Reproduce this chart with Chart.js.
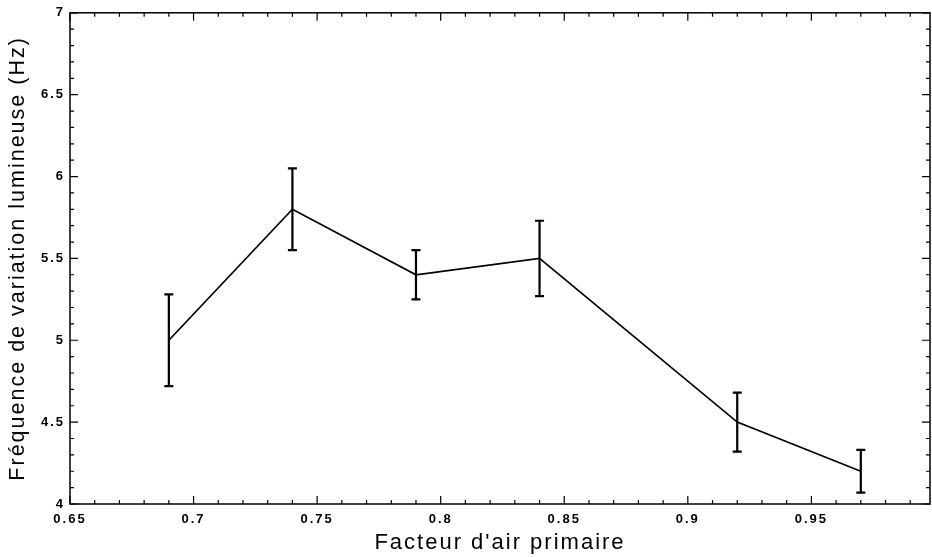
<!DOCTYPE html>
<html><head><meta charset="utf-8">
<script src="https://cdn.jsdelivr.net/npm/chart.js@4/dist/chart.umd.min.js"></script>
<style>html,body{margin:0;padding:0;background:#fff}</style>
</head><body>
<canvas id="c" width="932" height="557"></canvas>
<script>
// data
const airFactor = [0.69, 0.74, 0.79, 0.84, 0.92, 0.97];
const freqHz    = [5.0, 5.8, 5.4, 5.5, 4.5, 4.2];
const errLow    = [4.72, 5.55, 5.25, 5.27, 4.32, 4.07];
const errHigh   = [5.28, 6.05, 5.55, 5.73, 4.68, 4.33];
const xMajor = [0.65, 0.7, 0.75, 0.8, 0.85, 0.9, 0.95];
const yMajor = [4, 4.5, 5, 5.5, 6, 6.5, 7];
const xMinorStep = 0.01, yMinorStep = 0.1;

const FONT = 'Liberation Sans, Arial, Helvetica, sans-serif';

// wide letter spacing like the original typesetting
const spacingPlugin = {
  id: 'spacing',
  beforeDraw(chart){ chart.ctx.letterSpacing = '2px'; },
  afterDraw(chart){ chart.ctx.letterSpacing = '0px'; }
};

// inward ticks on all four sides, box frame, error bars
const framePlugin = {
  id: 'frame',
  afterDatasetsDraw(chart){
    const {ctx, chartArea:a, scales:{x, y}} = chart;
    ctx.save();
    ctx.strokeStyle = '#000';
    // error bars
    ctx.lineWidth = 2.2;
    airFactor.forEach((v,i)=>{
      const px = x.getPixelForValue(v), lo = y.getPixelForValue(errLow[i]), hi = y.getPixelForValue(errHigh[i]);
      ctx.beginPath();
      ctx.moveTo(px, lo); ctx.lineTo(px, hi);
      ctx.moveTo(px-4.5, lo); ctx.lineTo(px+4.5, lo);
      ctx.moveTo(px-4.5, hi); ctx.lineTo(px+4.5, hi);
      ctx.stroke();
    });
    // frame
    ctx.lineWidth = 1.5;
    ctx.strokeRect(a.left, a.top, a.right-a.left, a.bottom-a.top);
    ctx.lineWidth = 1.2;
    ctx.beginPath();
    for(let v = x.min; v <= x.max + 1e-9; v += xMinorStep){
      const vv = Math.round(v*100)/100;
      const major = xMajor.some(m=>Math.abs(m-vv)<1e-6);
      const len = major ? 8 : 4, px = x.getPixelForValue(vv);
      ctx.moveTo(px, a.bottom); ctx.lineTo(px, a.bottom-len);
      ctx.moveTo(px, a.top); ctx.lineTo(px, a.top+len);
    }
    for(let v = y.min; v <= y.max + 1e-9; v += yMinorStep){
      const vv = Math.round(v*10)/10;
      const major = yMajor.some(m=>Math.abs(m-vv)<1e-6);
      const len = major ? 8 : 4, py = y.getPixelForValue(vv);
      ctx.moveTo(a.left, py); ctx.lineTo(a.left+len, py);
      ctx.moveTo(a.right, py); ctx.lineTo(a.right-len, py);
    }
    ctx.stroke();
    ctx.restore();
  }
};

new Chart(document.getElementById('c'), {
  type: 'line',
  data: {
    datasets: [{
      data: airFactor.map((v,i)=>({x:v, y:freqHz[i]})),
      borderColor: '#000', borderWidth: 1.7, pointRadius: 0, tension: 0, fill: false
    }]
  },
  options: {
    responsive: false, animation: false,
    layout: {padding: {top: 10, right: 2, left: 0, bottom: 0}},
    plugins: {legend: {display: false}, tooltip: {enabled: false}},
    scales: {
      x: {
        type: 'linear', min: 0.65, max: 0.998,
        afterBuildTicks: s => { s.ticks = xMajor.map(v=>({value:v})); },
        afterFit: s => { s.height = 53; },
        grid: {display: false, drawTicks: false}, border: {display: false},
        ticks: {color: '#000', padding: 8, maxRotation: 0, autoSkip: false,
          font: {family: FONT, size: 13, weight: 'bold'}, callback: v => String(+v.toFixed(2))},
        title: {display: true, text: "Facteur d'air primaire", color: '#000',
          font: {family: FONT, size: 22}, padding: {top: 0, bottom: 1}}
      },
      y: {
        type: 'linear', min: 4, max: 7,
        afterBuildTicks: s => { s.ticks = yMajor.map(v=>({value:v})); },
        afterFit: s => { s.width = 70; },
        grid: {display: false, drawTicks: false}, border: {display: false},
        ticks: {color: '#000', padding: 5, autoSkip: false,
          font: {family: FONT, size: 13, weight: 'bold'}, callback: v => String(+v.toFixed(1))},
        title: {display: true, text: 'Fréquence de variation lumineuse (Hz)', color: '#000',
          font: {family: FONT, size: 21.5}, padding: {top: 5, bottom: 0}}
      }
    }
  },
  plugins: [spacingPlugin, framePlugin]
});
</script>
</body></html>
